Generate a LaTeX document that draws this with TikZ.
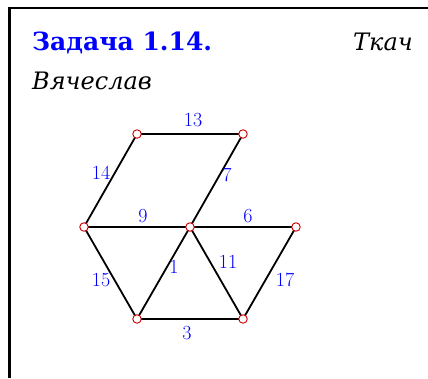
\documentclass[tikz,border=0pt]{standalone}
\usepackage{fontspec}
\newfontfamily\cyrfont{DejaVu Serif}
\begin{document}
\begin{tikzpicture}[x=1pt,y=-1pt,
  vtx/.style={circle,draw=red!80!black,fill=white,line width=0.9pt,inner sep=0pt,minimum size=8.5pt},
  edge/.style={line width=1.8pt,black},
  lbl/.style={text=blue,font=\addfontfeatures{FakeBold=0.6}\fontsize{20}{23}\selectfont,inner sep=0pt}]
\useasboundingbox (0,0) rectangle (428,378);
\draw[line width=2.6pt] (9.5,378) -- (9.5,8) -- (428,8);
\node[anchor=base west,inner sep=0pt,text=blue,font=\cyrfont\bfseries\fontsize{25}{29}\selectfont] (title) at (32,50) {Задача 1.14.};
\node[anchor=base east,inner sep=0pt,font=\cyrfont\itshape\fontsize{24}{28}\selectfont] (surname) at (413,50) {Ткач};
\node[anchor=base west,inner sep=0pt,font=\cyrfont\itshape\fontsize{24}{28}\selectfont] (name) at (32,89) {Вячеслав};
\coordinate (a) at (137,134);
\coordinate (b) at (243,134);
\coordinate (c) at (84,227);
\coordinate (d) at (190,227);
\coordinate (e) at (296,227);
\coordinate (f) at (137,319);
\coordinate (g) at (243,319);
\draw[edge] (a) -- (b);
\draw[edge] (c) -- (a);
\draw[edge] (b) -- (d);
\draw[edge] (c) -- (d);
\draw[edge] (d) -- (e);
\draw[edge] (c) -- (f);
\draw[edge] (f) -- (d);
\draw[edge] (d) -- (g);
\draw[edge] (e) -- (g);
\draw[edge] (f) -- (g);
\foreach \p in {a,b,c,d,e,f,g} \node[vtx] (n\p) at (\p) {};
\node[lbl] (l13) at (193,120) {13};
\node[lbl] (l14) at (101,173) {14};
\node[lbl] (l7) at (227,175) {7};
\node[lbl] (l9) at (143,216) {9};
\node[lbl] (l6) at (248,216) {6};
\node[lbl] (l15) at (101,280) {15};
\node[lbl] (l1) at (174,267) {1};
\node[lbl] (l11) at (228,262) {11};
\node[lbl] (l17) at (285,280) {17};
\node[lbl] (l3) at (187,333) {3};
\end{tikzpicture}
\end{document}
